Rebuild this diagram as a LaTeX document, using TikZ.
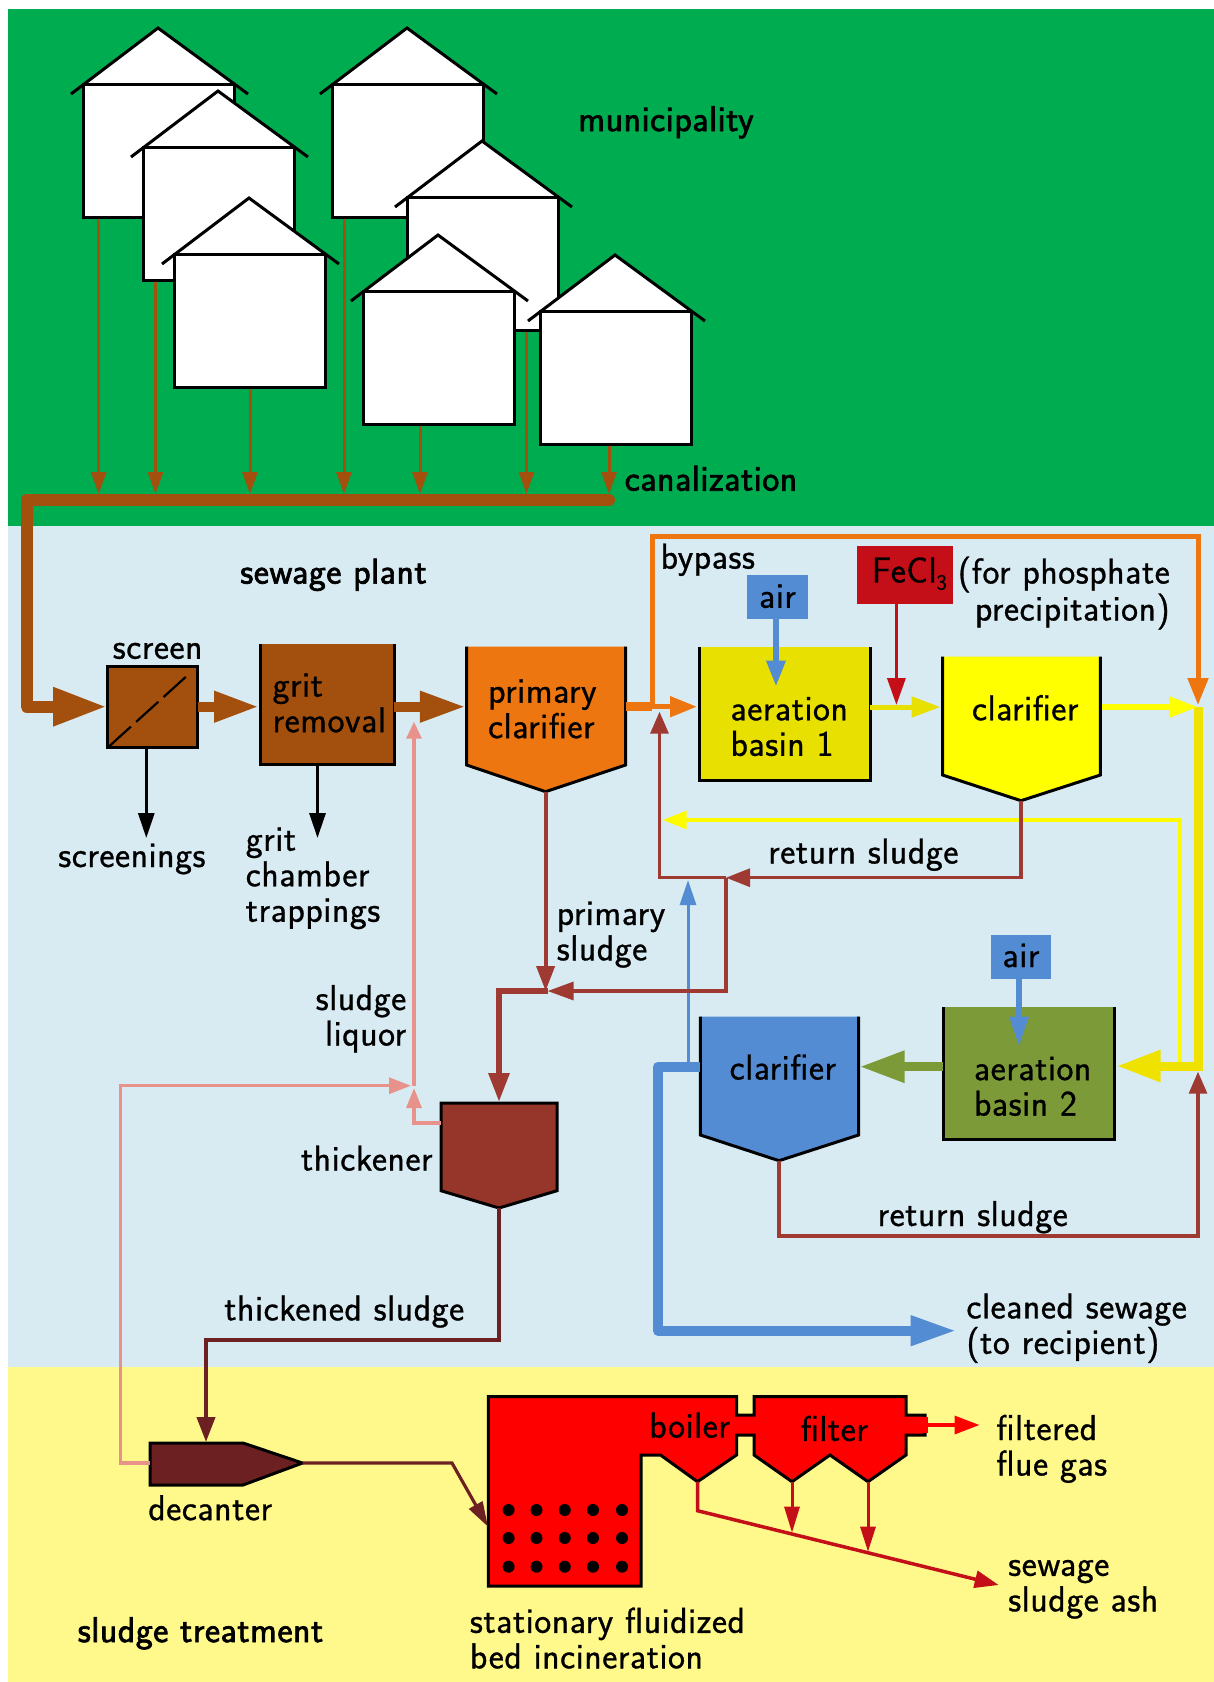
\documentclass[tikz,border=0pt]{standalone}
\usepackage{fontspec}
\newfontfamily\lmsr[FakeBold=0.8,LetterSpace=1.5]{Latin Modern Sans}
\newfontfamily\lmsb[FakeBold=2,LetterSpace=1.5]{Latin Modern Sans}
\usetikzlibrary{arrows.meta}
\definecolor{bggreen}{RGB}{0,172,80}
\definecolor{bgblue}{RGB}{216,235,243}
\definecolor{bgyellow}{RGB}{255,249,140}
\definecolor{sewbrown}{RGB}{163,80,15}
\definecolor{sewor}{RGB}{238,118,16}
\definecolor{sewmust}{RGB}{232,224,0}
\definecolor{sewyel}{RGB}{255,255,0}
\definecolor{sewthick}{RGB}{240,226,0}
\definecolor{sewrust}{RGB}{158,58,50}
\definecolor{sewdark}{RGB}{108,32,34}
\definecolor{sewpink}{RGB}{232,146,140}
\definecolor{sewblue}{RGB}{84,140,212}
\definecolor{sewolive}{RGB}{125,154,56}
\definecolor{sewthk}{RGB}{150,54,42}
\definecolor{sewfe}{RGB}{196,14,24}
\definecolor{sewred}{RGB}{255,0,0}
\tikzset{
 x=1pt,y=-1pt,
 hd/.style 2 args={-{Triangle[length=#1pt,width=#2pt]}},
 wall/.style={black,line width=3pt,line cap=butt,line join=miter},
 lbl/.style={inner sep=0pt,align=left,text=black,font=\lmsr\fontsize{36}{35.5}\selectfont},
 lblb/.style={lbl,font=\lmsb\fontsize{36}{35.5}\selectfont},
 sewer/.style={sewbrown,line width=3pt,hd={22}{15}},
 rust/.style={sewrust,line width=3.2pt},
 pinkline/.style={sewpink,line width=3.2pt},
 pics/house/.style={code={
   \fill[white] (-12,10) -- (75,-56) -- (165,10) -- (151,0) -- (151,133) -- (0,133) -- (0,0) -- cycle;
   \draw[black,line width=3pt,line join=miter] (0,0) rectangle (151,133);
   \draw[black,line width=3pt,line join=miter] (-12,10) -- (75,-56) -- (165,10);
 }}
}
\begin{document}
\begin{tikzpicture}
\useasboundingbox (0,0) rectangle (1214,1682);
\fill[white] (0,0) rectangle (1214,1682);
\fill[bggreen] (8,9) rectangle (1214,526);
\fill[bgblue] (8,526) rectangle (1214,1367);
\fill[bgyellow] (8,1367) rectangle (1214,1682);

% ---------- named points
\coordinate (canalEnd) at (609,500);
\coordinate (canalCorner) at (26.5,500);
\coordinate (h1out) at (98.7,216);   \coordinate (h1in) at (98.7,494);
\coordinate (h2out) at (155.5,279);  \coordinate (h2in) at (155.5,494);
\coordinate (h3out) at (250,386);    \coordinate (h3in) at (250,494);
\coordinate (h4out) at (344,216);    \coordinate (h4in) at (344,494);
\coordinate (h5out) at (526.5,328);  \coordinate (h5in) at (526.5,494);
\coordinate (h6out) at (420,424);    \coordinate (h6in) at (420,494);
\coordinate (h7out) at (609,442);    \coordinate (h7in) at (609,494);
\coordinate (screenL) at (107,706.7); \coordinate (screenR) at (197.7,706.7); \coordinate (screenB) at (146.3,747.3);
\coordinate (screeningsTip) at (146.3,838);
\coordinate (gritL) at (259,706.7); \coordinate (gritR) at (394,706.7); \coordinate (gritB) at (317.5,764);
\coordinate (gritTip) at (317.5,838);
\coordinate (primL) at (465.8,706.7); \coordinate (primR) at (625.5,706.7); \coordinate (primB) at (545.6,791.7);
\coordinate (a1L) at (697,706.7); \coordinate (a1R) at (870,707); \coordinate (a1T) at (776,686.7);
\coordinate (split) at (652,706.7); \coordinate (splitB) at (670,706.7);
\coordinate (bypass1) at (652,536.7); \coordinate (bypass2) at (1198,536.7); \coordinate (bypassTip) at (1198,705);
\coordinate (c1L) at (940.5,707); \coordinate (c1R) at (1102,707); \coordinate (c1B) at (1021,800.7);
\coordinate (air1B) at (776,619);
\coordinate (feB) at (896.4,604); \coordinate (feT) at (896.4,705);
\coordinate (rightJoin) at (1198,707);
\coordinate (rightBottom) at (1198,1066);
\coordinate (yelLoop) at (1180,1066); \coordinate (yelLoopTop) at (1180,820); \coordinate (yelTip) at (662.6,820);
\coordinate (a2R) at (1116.6,1066);
\coordinate (ret1) at (1021,877.7); \coordinate (retJ) at (726,877.7); \coordinate (retUp) at (659.5,877.7); \coordinate (retTip) at (659.5,711.7);
\coordinate (retDown) at (726,991); \coordinate (sludgeJ) at (547.6,991);
\coordinate (primTip) at (545.6,991);
\coordinate (thkL) at (441,1123); \coordinate (thkT) at (499,1102); \coordinate (thkB) at (499,1208);
\coordinate (thkIn) at (499,991);
\coordinate (pinkJ) at (414,1123); \coordinate (pinkTip) at (414,1088); \coordinate (pinkTop) at (414,721.7); \coordinate (pinkStart) at (414,1086);
\coordinate (decL) at (150,1463); \coordinate (decT) at (206,1442); \coordinate (decR) at (302.5,1463);
\coordinate (pink1) at (120.6,1463); \coordinate (pink2) at (120.6,1085.7); \coordinate (pink3) at (411,1085.7);
\coordinate (thk1) at (499,1340); \coordinate (thk2) at (206,1340);
\coordinate (incA) at (452,1463); \coordinate (incIn) at (488,1526.7);
\coordinate (a2L) at (943,1066.7); \coordinate (c2R) at (859.6,1066.7); \coordinate (c2L) at (700.4,1066.7); \coordinate (c2B) at (779,1160.7);
\coordinate (blueCorner) at (658,1066.7); \coordinate (blueLow) at (658,1330.7); \coordinate (blueTip) at (956.6,1330.7);
\coordinate (blueThinB) at (688,1066); \coordinate (blueThinT) at (688,880);
\coordinate (air2B) at (1019,979); \coordinate (a2T) at (1019,1046.7);
\coordinate (ret2a) at (779,1236); \coordinate (ret2b) at (1198,1236); \coordinate (ret2t) at (1198,1071.7);
\coordinate (bo) at (697.5,1481.7); \coordinate (boK) at (697.5,1510.7); \coordinate (ashTip) at (998.7,1585);
\coordinate (f1) at (792,1481.7); \coordinate (f1t) at (792,1532.7);
\coordinate (f2) at (868,1481.7); \coordinate (f2t) at (868,1551.7);
\coordinate (fo) at (925,1425); \coordinate (fot) at (979.5,1425);

% ---------- canalization
\foreach \a/\b in {h1out/h1in,h2out/h2in,h3out/h3in,h4out/h4in,h5out/h5in,h6out/h6in,h7out/h7in}
  \draw[sewer] (\a) -- (\b);
\draw[sewbrown,line width=12pt,line join=round,line cap=round] (canalEnd) -- (canalCorner) -- (26.5,706.7) -- (60,706.7);
\draw[sewbrown,line width=12pt,hd={54}{36}] (40,706.7) -- (screenL);

% ---------- houses
\pic at (83,84) {house};
\pic at (143,147) {house};
\pic at (174,254) {house};
\pic at (332,84) {house};
\pic at (407,197) {house};
\pic at (363,291) {house};
\pic at (540,311) {house};

% ---------- tanks
\fill[sewbrown] (107.5,666.7) rectangle (197.7,747.3);
\draw[wall] (107.5,666.7) rectangle (197.7,747.3);
\draw[black,line width=2.2pt,dash pattern=on 30pt off 7pt] (108.7,746.7) -- (186,676.7);

\fill[sewbrown] (260,644) rectangle (394,764);
\draw[wall] (260,644) -- (260,764) -- (394,764) -- (394,644);

\fill[sewor] (466.6,646.7) -- (466.6,765) -- (545.6,791.7) -- (625.5,765) -- (625.5,646.7) -- cycle;
\draw[wall] (466.6,646.7) -- (466.6,765) -- (545.6,791.7) -- (625.5,765) -- (625.5,646.7);

\fill[sewmust] (699.8,646.7) rectangle (870,780);
\draw[wall] (699.8,646.7) -- (699.8,780) -- (870,780) -- (870,646.7);

\fill[sewyel] (942.6,656.7) -- (942.6,775) -- (1021,800.7) -- (1100.4,775) -- (1100.4,656.7) -- cycle;
\draw[wall] (942.6,656.7) -- (942.6,775) -- (1021,800.7) -- (1100.4,775) -- (1100.4,656.7);

\fill[sewolive] (943,1007) rectangle (1114,1139);
\draw[wall] (943,1007) -- (943,1139) -- (1114,1139) -- (1114,1007);

\fill[sewblue] (700.4,1016.7) -- (700.4,1135) -- (779,1160.7) -- (858.5,1135) -- (858.5,1016.7) -- cycle;
\draw[wall] (700.4,1016.7) -- (700.4,1135) -- (779,1160.7) -- (858.5,1135) -- (858.5,1016.7);

\fill[sewthk] (441,1103) -- (441,1190.7) -- (499,1208) -- (557,1190.7) -- (557,1103) -- cycle;
\draw[wall] (441,1103) -- (441,1190.7) -- (499,1208) -- (557,1190.7) -- (557,1103) -- cycle;

\fill[sewdark] (150,1443) -- (243,1443) -- (302.5,1463) -- (243,1485) -- (150,1485) -- cycle;
\draw[wall] (150,1443) -- (243,1443) -- (302.5,1463) -- (243,1485) -- (150,1485) -- cycle;

\fill[sewblue] (746.8,575) rectangle (807.5,619);
\fill[sewblue] (990.6,935) rectangle (1050.7,979);
\fill[sewfe] (857,546) rectangle (953,604);

% incinerator
\path[fill=sewred,draw=black,line width=3pt,line join=miter]
 (488.4,1396.7) -- (736.5,1396.7) -- (736.5,1415) -- (754,1415) -- (754,1396.7) -- (906,1396.7)
 -- (906,1415) -- (925,1415) -- (925,1435) -- (906,1435) -- (906,1455) -- (868,1481.7) -- (830,1455)
 -- (792,1481.7) -- (754,1455) -- (754,1435) -- (736.5,1435) -- (736.5,1455) -- (697.5,1481.7)
 -- (660.5,1455) -- (641,1455) -- (641,1586) -- (488.4,1586) -- cycle;
\fill[sewred] (734,1417) rectangle (757,1433);
\fill[sewred] (921,1417) rectangle (928,1433);
\foreach \dx in {508.6,536.5,564.8,593,622}
  \foreach \dy in {1510,1538,1566.7}
    \fill[black] (\dx,\dy) circle[radius=6pt];

% ---------- connectors
\draw[sewbrown,line width=10pt,hd={45}{29}] (screenR) -- (gritL);
\draw[sewbrown,line width=10pt,hd={46}{29}] (gritR) -- (primL);
\draw[black,line width=3pt,hd={25}{16}] (screenB) -- (screeningsTip);
\draw[black,line width=3pt,hd={25}{16}] (gritB) -- (gritTip);

\draw[sewor,line width=9pt] (primR) -- (split);
\draw[sewor,line width=5pt,hd={27}{20}] (split) -- (a1L);
\draw[sewor,line width=5pt,line join=miter,hd={27}{20}] (split) -- (bypass1) -- (bypass2) -- (bypassTip);

\draw[sewthick,line width=9pt] (rightJoin) -- (rightBottom);
\draw[sewmust,line width=5pt,hd={29}{20}] (a1R) -- (c1L);
\draw[sewyel,line width=6pt,hd={29}{20}] (c1R) -- (rightJoin);
\draw[sewyel!85!sewthick,line width=3.5pt,hd={24}{18}] (yelLoop) -- (yelLoopTop) -- (yelTip);
\draw[sewthick,line width=9pt] (1203,1066) -- (1150,1066);
\draw[sewthick,line width=9pt,hd={44}{30}] (1175,1066) -- (a2R);

\draw[sewblue,line width=6pt,hd={26}{18}] (air1B) -- (a1T);
\draw[sewblue,line width=6pt,hd={30}{18}] (air2B) -- (a2T);
\draw[sewfe,line width=3.5pt,hd={27}{18}] (feB) -- (feT);

\draw[sewblue,line width=3pt,hd={25}{16}] (blueThinB) -- (blueThinT);
\draw[sewblue,line width=10pt,line join=round,hd={46}{28}] (c2L) -- (blueCorner) -- (blueLow) -- (blueTip);
\draw[sewolive,line width=9pt,hd={45}{30}] (a2L) -- (c2R);

\draw[rust,hd={24}{18}] (c1B) -- (ret1) -- (retJ);
\draw[rust,hd={22}{18}] (retJ) -- (retUp) -- (retTip);
\draw[rust,hd={26}{18}] (retJ) -- (retDown) -- (sludgeJ);
\draw[sewrust,line width=4pt,hd={25}{18}] (primB) -- (primTip);
\draw[sewrust,line width=6pt,line join=miter,hd={29}{20}] (sludgeJ) -- (thkIn) -- (thkT);
\draw[rust,hd={22}{18}] (c2B) -- (ret2a) -- (ret2b) -- (ret2t);

\draw[pinkline,hd={20}{15}] (thkL) -- (pinkJ) -- (pinkTip);
\draw[pinkline,hd={17}{15}] (pinkStart) -- (pinkTop);
\draw[pinkline,hd={22}{16}] (decL) -- (pink1) -- (pink2) -- (pink3);

\draw[sewdark,line width=4pt,line join=miter,hd={25}{18}] (thkB) -- (thk1) -- (thk2) -- (decT);
\draw[sewdark,line width=3.2pt,line join=miter,hd={25}{15}] (decR) -- (incA) -- (incIn);

\draw[sewfe,line width=3.5pt,line join=miter,hd={24}{17}] (bo) -- (boK) -- (ashTip);
\draw[sewfe,line width=3pt,hd={26}{15}] (f1) -- (f1t);
\draw[sewfe,line width=3pt,hd={25}{15}] (f2) -- (f2t);
\draw[sewred,line width=3.5pt,hd={25}{18}] (fo) -- (fot);

% ---------- labels (positions in reduced-reference units)
\begin{scope}[x=1.0724pt,y=-1.0724pt]
\node[lblb] (tMun) at (621,114) {municipality};
\node[lblb] (tCan) at (663,446) {canalization};
\node[lblb] (tPlant) at (311,536) {sewage plant};
\node[lblb] (tTreat) at (187,1523) {sludge treatment};
\node[lbl] (tScreen) at (147,607) {screen};
\node[lbl] (tScreenings) at (123,801) {screenings};
\node[lbl,anchor=west] (tChamber) at (229,819) {grit\\chamber\\trappings};
\node[lbl,anchor=west] (tGrit) at (254,655.5) {grit\\removal};
\node[lbl,anchor=west] (tPrim) at (455,661) {primary\\clarifier};
\node[lbl] (tBypass) at (660,522) {bypass};
\node[lbl] (tAir1) at (725,556) {air};
\node[lbl] (tFe) at (848,535) {FeCl\raisebox{-0.2em}{\fontsize{22}{22}\selectfont 3}};
\node[lbl,anchor=east,align=right] (tPhos) at (1091,553) {(for phosphate\\precipitation)};
\node[lbl,anchor=west] (tAer1) at (681,677.5) {aeration\\basin 1};
\node[lbl] (tClar1) at (956,660) {clarifier};
\node[lbl] (tRet1) at (805,797) {return sludge};
\node[lbl,anchor=west] (tPS) at (519,871.5) {primary\\sludge};
\node[lbl,anchor=east,align=right] (tLiq) at (379,950) {sludge\\liquor};
\node[lbl] (tThk) at (342,1080) {thickener};
\node[lbl] (tClar2) at (730,995) {clarifier};
\node[lbl,anchor=west] (tAer2) at (908,1013) {aeration\\basin 2};
\node[lbl] (tAir2) at (952,891) {air};
\node[lbl] (tRet2) at (907,1135) {return sludge};
\node[lbl] (tThS) at (321,1223) {thickened sludge};
\node[lbl,anchor=west] (tClean) at (901,1238.5) {cleaned sewage\\(to recipient)};
\node[lbl] (tDec) at (196,1406) {decanter};
\node[lbl] (tBoil) at (643,1329) {boiler};
\node[lbl] (tFilt) at (778,1332) {filter};
\node[lbl,anchor=west] (tFlue) at (929,1351) {filtered\\flue gas};
\node[lbl,anchor=west] (tAsh) at (940,1482) {sewage\\sludge ash};
\node[lbl,anchor=west] (tBed) at (438,1527.5) {stationary fluidized\\bed incineration};
\end{scope}
\end{tikzpicture}
\end{document}
